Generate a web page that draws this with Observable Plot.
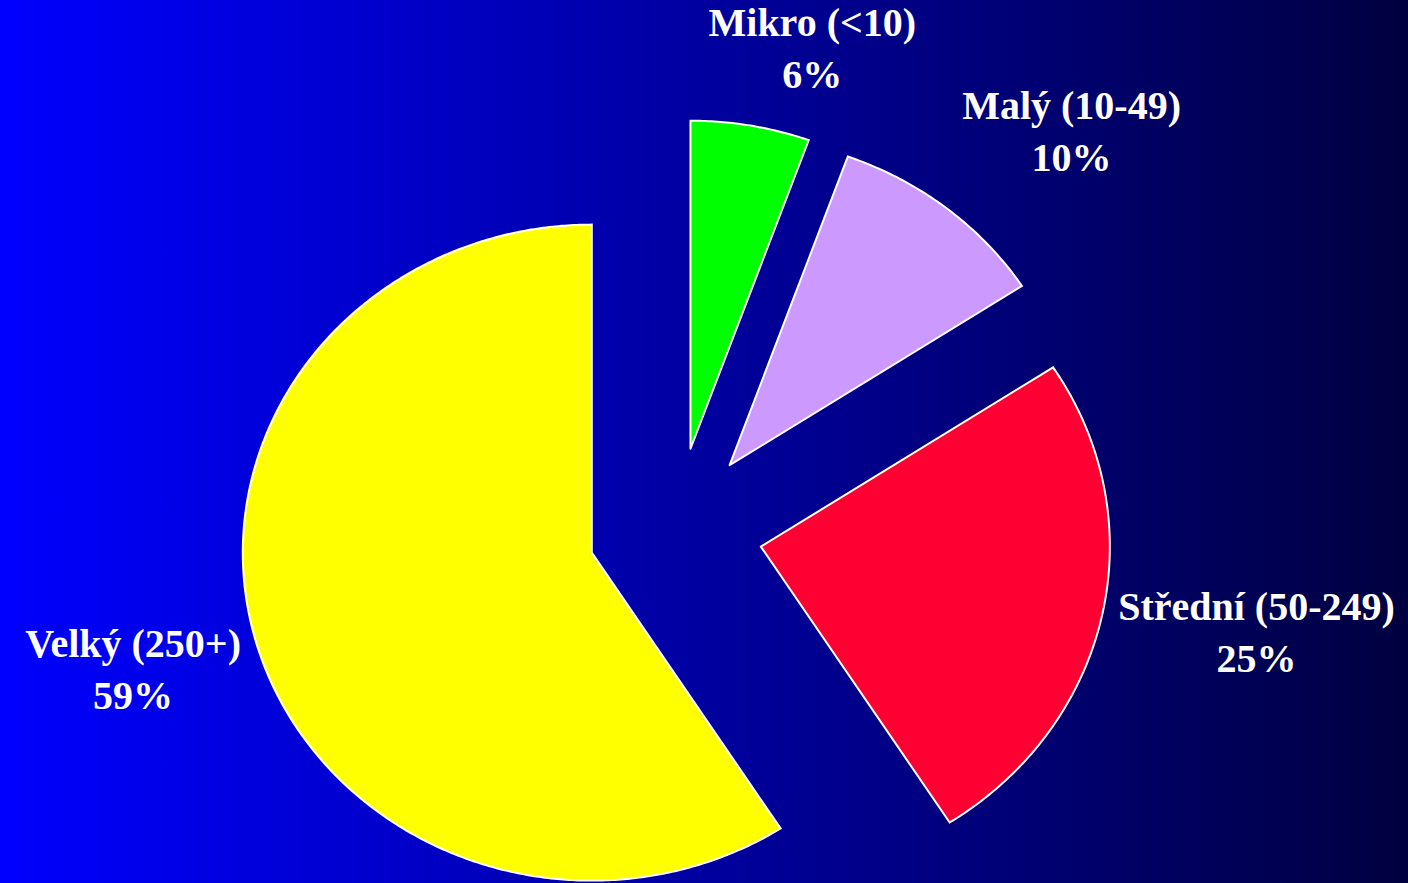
<!DOCTYPE html>
<html><head><meta charset="utf-8">
<script src="https://cdn.jsdelivr.net/npm/d3@7"></script>
<script src="https://cdn.jsdelivr.net/npm/@observablehq/plot@0.6"></script>
<style>
html,body{margin:0;padding:0;width:1408px;height:883px;overflow:hidden;background:linear-gradient(to right,#0000ff,#000040);}
#chart svg{display:block;}
</style>
</head><body><div id="chart"></div>
<script>
// Data
const categories = ["Mikro (<10)", "Malý (10-49)", "Střední (50-249)", "Velký (250+)"];
const shares = [5.5, 10.3, 25.1, 59.1];
const sliceColors = ["#00ff00", "#cc99ff", "#ff0033", "#ffff00"];

// Layout constants
const W = 1408, H = 883, CX = 675, CY = 529, RX = 349, RY = 328, EXPLODE = 0.25;

const total = d3.sum(shares);
let acc = 0;
const slices = categories.map((c, i) => {
  const a0 = acc / total * 2 * Math.PI;
  acc += shares[i];
  const a1 = acc / total * 2 * Math.PI;
  return {c, v: shares[i], a0, a1, m: (a0 + a1) / 2};
});

const pts = [];
for (const s of slices) {
  const ox = EXPLODE * Math.sin(s.m), oy = EXPLODE * Math.cos(s.m);
  pts.push({c: s.c, x: ox, y: oy});
  const n = Math.max(2, Math.ceil((s.a1 - s.a0) / (Math.PI / 360)));
  for (let k = 0; k <= n; k++) {
    const a = s.a0 + (s.a1 - s.a0) * k / n;
    pts.push({c: s.c, x: ox + Math.sin(a), y: oy + Math.cos(a)});
  }
  pts.push({c: s.c, x: ox, y: oy});
}

const FONT_SIZE = 40;
const ctx = document.createElement("canvas").getContext("2d");
ctx.font = `bold ${FONT_SIZE}px 'Liberation Serif'`;
const clamp = v => Math.max(-1, Math.min(1, v));
const labels = slices.map(s => {
  const lines = [s.c, Math.round(s.v) + "%"];
  const hw = d3.max(lines, l => ctx.measureText(l).width) / 2, hh = 38;
  const px = (1 + EXPLODE) * RX * Math.sin(s.m) + (hw + 16) * clamp(3 * Math.sin(s.m));
  const py = (1 + EXPLODE) * RY * Math.cos(s.m) + (hh + 36) * clamp(1.3 * Math.cos(s.m));
  return {text: lines.join("\n"), x: px / RX, y: py / RY};
});

const chart = Plot.plot({
  width: W, height: H, margin: 0,
  style: {background: "transparent", overflow: "visible"},
  x: {domain: [-CX / RX, (W - CX) / RX], axis: null},
  y: {domain: [-(H - CY) / RY, CY / RY], axis: null},
  color: {domain: categories, range: sliceColors},
  marks: [
    Plot.line(pts, {x: "x", y: "y", z: "c", fill: "c", stroke: "white", strokeWidth: 2,
      strokeLinejoin: "miter", strokeMiterlimit: 10, curve: "linear"}),
    Plot.text(labels, {x: "x", y: "y", text: "text", fill: "white", fontSize: FONT_SIZE,
      fontWeight: "bold", fontFamily: "Liberation Serif", lineHeight: 1.3, dy: -6})
  ]
});
document.getElementById("chart").append(chart);
</script>
</body></html>
